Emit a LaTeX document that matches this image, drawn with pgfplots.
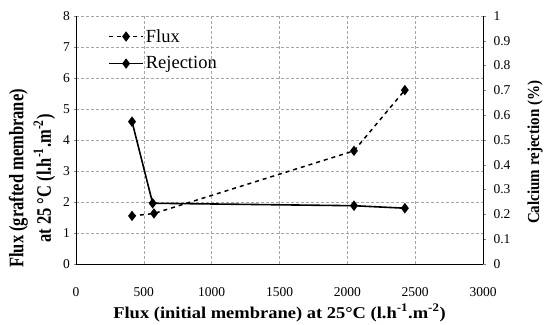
\documentclass[border=0pt]{standalone}
\usepackage{pgfplots}
\pgfplotsset{compat=1.18}
\usepackage{fontspec}
\setmainfont{Liberation Serif}
\begin{document}
\begin{tikzpicture}
\pgfplotsset{
  common/.style={
    scale only axis, width=407pt, height=248pt,
    xmin=0, xmax=3000,
    /pgf/number format/assume math mode=true,
    /pgf/number format/1000 sep={},
    scaled x ticks=false,
  }
}
\begin{axis}[common,
  ymin=0, ymax=8,
  xtick={0,500,...,3000}, ytick={0,1,...,8},
  grid=major, grid style={gray!70, dash pattern=on 3pt off 2pt, line width=0.4pt},
  axis x line*=bottom, axis y line*=left,
  axis line style={black, line width=0.6pt},
  major tick length=3pt, tick align=center,
  xtick style={draw=none},
  xticklabel style={font=\fontsize{13.5}{15}\selectfont, yshift=-18pt},
  yticklabel style={font=\fontsize{13.5}{15}\selectfont, xshift=-1pt},
  xlabel={Flux (initial membrane) at 25°C (l.h\textsuperscript{-1}.m\textsuperscript{-2})},
  xlabel style={font=\bfseries\fontsize{16.5}{18}\selectfont, xscale=1.12, at={(axis description cs:0.5,0)}, anchor=center, yshift=-49pt},
  ylabel={Flux (grafted membrane)\\at 25 °C (l.h\textsuperscript{-1}.m\textsuperscript{-2})},
  every axis y label/.style={font=\bfseries\fontsize{16.5}{22}\selectfont, rotate=90, yscale=1.25, at={(axis description cs:-0.108,0.345)}, anchor=center, align=center},
  legend style={draw=none, fill=none, at={(axis description cs:0.079,0.955)}, anchor=north west,
    font=\fontsize{18.5}{20}\selectfont, row sep=9pt, inner sep=0pt},
  legend cell align=left,
  legend image code/.code={\draw[mark repeat=2, mark phase=2, #1] plot coordinates {(0pt,0pt) (17pt,0pt) (34pt,0pt)};},
]
\addplot[black, line width=1.5pt, dash pattern=on 4pt off 4pt, mark=diamond*, mark size=4pt, mark options={solid}]
  coordinates {(413,1.55) (575,1.63) (2049,3.65) (2424,5.61)};
\addlegendentry{Flux}
\addlegendimage{black, line width=1.5pt, mark=diamond*, mark size=4pt}
\addlegendentry{Rejection}
\end{axis}
\begin{axis}[common,
  ymin=0, ymax=1,
  ytick={0,0.1,...,1.0},
  yticklabel style={font=\fontsize{13.5}{15}\selectfont, /pgf/number format/fixed, /pgf/number format/precision=1, xshift=4pt},
  axis x line=none, axis y line*=right,
  axis line style={black, line width=0.6pt},
  major tick length=3pt, tick align=outside,
  ylabel={Calcium rejection (\%)},
  every axis y label/.style={font=\bfseries\fontsize{15}{17}\selectfont, rotate=90, yscale=1.12, at={(axis description cs:1.128,0.45)}, anchor=center},
]
\addplot[black, line width=1.6pt, mark=diamond*, mark size=4pt]
  coordinates {(413,0.574) (565,0.245) (2049,0.235) (2424,0.225)};
\end{axis}
\pgfresetboundingbox
\path (-76pt,-60pt) rectangle (475pt,264pt);
\end{tikzpicture}
\end{document}
